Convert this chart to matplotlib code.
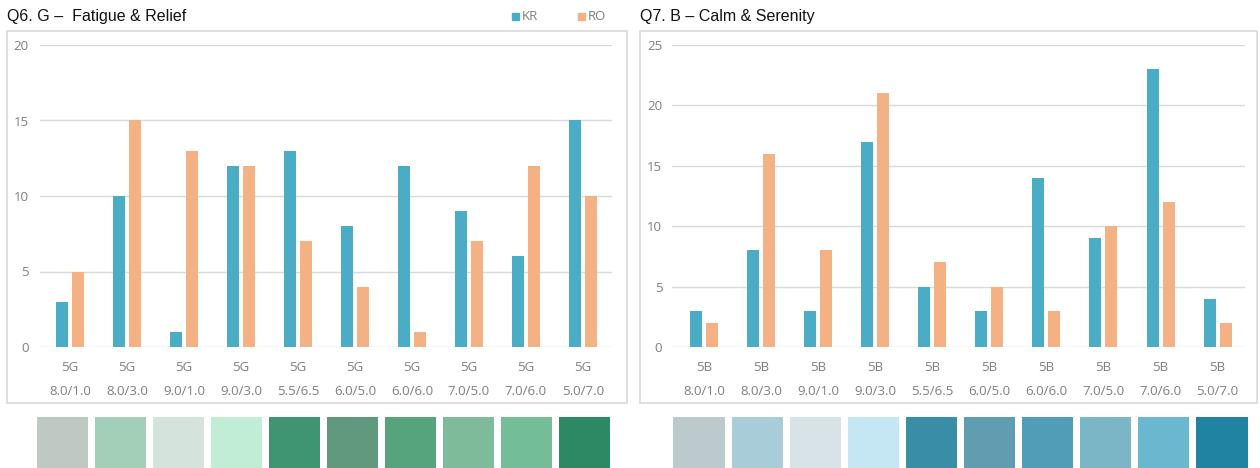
import numpy as np
import matplotlib.pyplot as plt
from matplotlib.patches import Rectangle

W, H = 1260, 468

values_top = ["8.0/1.0", "8.0/3.0", "9.0/1.0", "9.0/3.0", "5.5/6.5",
              "6.0/5.0", "6.0/6.0", "7.0/5.0", "7.0/6.0", "5.0/7.0"]

q6_kr = [3, 10, 1, 12, 13, 8, 12, 9, 6, 15]
q6_ro = [5, 15, 13, 12, 7, 4, 1, 7, 12, 10]
q7_kr = [3, 8, 3, 17, 5, 3, 14, 9, 23, 4]
q7_ro = [2, 16, 8, 21, 7, 5, 3, 10, 12, 2]

green_chips = ["#BEC9C4", "#A3CFB8", "#D4E3DC", "#C1EDD6", "#3F9571",
               "#61997F", "#56A47E", "#7DBB9B", "#73BE98", "#2D8964"]
blue_chips = ["#BDCACD", "#A8CCD8", "#D7E3E6", "#C4E7F3", "#3A8DA7",
              "#609DB0", "#4F9DB7", "#7AB6C6", "#6AB8D0", "#1F83A1"]

KR = "#4BACC6"
RO = "#F4B183"
GRID = "#D9D9D9"
TXT = "#7F7F7F"

plt.rcParams['font.family'] = ['Open Sans', 'DejaVu Sans']


def px_box(x0, y0, x1, y1):
    return [x0 / W, 1 - y1 / H, (x1 - x0) / W, (y1 - y0) / H]


fig = plt.figure(figsize=(W / 100, H / 100), dpi=100)


def panel(box, axbox, chipbox, xlim, ypad, hue, kr, ro, ymax, title, chips, legend):
    # frame around the chart
    x0, y0, x1, y1 = box
    fig.patches.append(Rectangle((x0 / W, 1 - y1 / H), (x1 - x0) / W, (y1 - y0) / H,
                                 transform=fig.transFigure, fill=False,
                                 edgecolor=GRID, lw=1.2))
    fig.text(x0 / W, 1 - 16 / H, title, ha='left', va='center', fontsize=11.5,
             family=['Liberation Sans', 'DejaVu Sans'], color='#111111')

    ax = fig.add_axes(px_box(*axbox))
    x = np.arange(len(kr))
    w = 0.21
    ax.bar(x - 0.14, kr, w, color=KR, zorder=3)
    ax.bar(x + 0.14, ro, w, color=RO, zorder=3)
    ax.set_xlim(*xlim)
    ax.set_ylim(0, ymax)
    ax.set_yticks(np.arange(0, ymax + 1, 5))
    ax.grid(axis='y', color=GRID, lw=1, zorder=0)
    ax.set_xticks(x)
    ax.set_xticklabels([f"{hue}\n{v}" for v in values_top], linespacing=2.1)
    ax.tick_params(length=0, labelsize=9.5, colors=TXT)
    ax.tick_params(axis='y', pad=ypad)
    ax.tick_params(axis='x', pad=10)
    for s in ax.spines.values():
        s.set_visible(False)

    # colour chips under the chart
    cx = fig.add_axes(px_box(*chipbox))
    cx.bar(x, np.ones(len(chips)), 0.88, color=chips, align='center')
    cx.set_xlim(-0.5, len(chips) - 0.5)
    cx.set_ylim(0, 1)
    cx.axis('off')

    if legend:
        for lx, lab, col in legend:
            fig.patches.append(Rectangle((lx / W, 1 - 20 / H), 7 / W, 7 / H,
                                         transform=fig.transFigure, color=col))
            fig.text((lx + 10) / W, 1 - 16.5 / H, lab, ha='left', va='center',
                     fontsize=9.5, color=TXT)
    return ax


panel((7, 31, 627, 403), (40, 45, 612, 347), (34, 417, 613, 468),
      (-0.526, 9.51), 8, "5G", q6_kr, q6_ro, 20, "Q6. G –  Fatigue & Relief",
      green_chips, [(512, "KR", KR), (578, "RO", RO)])
panel((640, 31, 1257, 403), (672, 45, 1245, 347), (670, 417, 1251, 468),
      (-0.56, 9.48), 7, "5B", q7_kr, q7_ro, 25, "Q7. B – Calm & Serenity",
      blue_chips, None)

fig.savefig("out.png", dpi=100, facecolor='white')
